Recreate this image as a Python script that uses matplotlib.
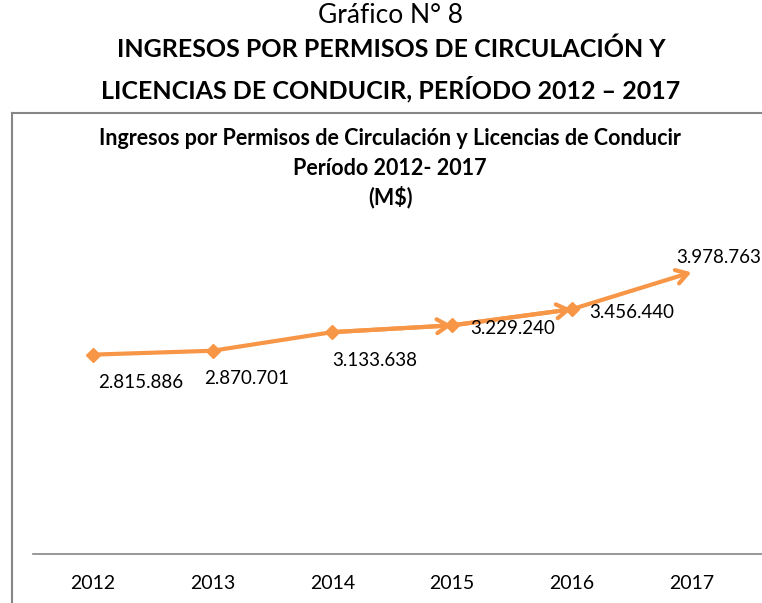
import numpy as np
import matplotlib.pyplot as plt
from matplotlib.lines import Line2D

# Datos del grafico
years = ['2012', '2013', '2014', '2015', '2016', '2017']
ingresos = [2815886, 2870701, 3133638, 3229240, 3456440, 3978763]
etiquetas = ['2.815.886', '2.870.701', '3.133.638', '3.229.240', '3.456.440', '3.978.763']

# desplazamiento de las etiquetas (pixeles)
label_dx = [48, 34, 42, 61, 60, 27]
label_dy = [-28, -28, -28, -3, -3, 15]

plt.rcParams['font.family'] = ['Lato', 'DejaVu Sans']
naranja = '#F79646'
gris = '#868686'

fig = plt.figure(figsize=(7.62, 6.03), dpi=100)

# Titulos exteriores
fig.text(0.513, 0.975, 'Gráfico N° 8', ha='center', va='center', fontsize=19)
fig.text(0.513, 0.918, 'INGRESOS POR PERMISOS DE CIRCULACIÓN Y', ha='center', va='center',
         fontsize=18, fontweight='bold')
fig.text(0.513, 0.852, 'LICENCIAS DE CONDUCIR, PERÍODO 2012 – 2017', ha='center', va='center',
         fontsize=18, fontweight='bold')

# Marco del grafico
fig.add_artist(Line2D([12 / 762, 12 / 762], [0, (603 - 113) / 603], color=gris, lw=1.5))
fig.add_artist(Line2D([12 / 762, 1], [(603 - 113) / 603] * 2, color=gris, lw=1.5))

# Titulo interior
fig.text(0.512, 0.771, 'Ingresos por Permisos de Circulación y Licencias de Conducir',
         ha='center', va='center', fontsize=15.5, fontweight='bold')
fig.text(0.512, 0.721, 'Período 2012- 2017', ha='center', va='center', fontsize=15.5, fontweight='bold')
fig.text(0.512, 0.673, '(M$)', ha='center', va='center', fontsize=15.5, fontweight='bold')

ax = fig.add_axes([33 / 762, 49 / 603, (762 - 33) / 762, 354 / 603])
x = np.arange(len(years))

ax.plot(x[:-1], ingresos[:-1], color=naranja, lw=3, marker='D', markersize=7, zorder=3)
# segmentos con punta de flecha (2015, 2016, 2017)
for i in range(3, len(years)):
    ax.annotate('', xy=(x[i], ingresos[i]), xytext=(x[i - 1], ingresos[i - 1]),
                arrowprops=dict(arrowstyle='->, head_length=0.8, head_width=0.5',
                                color=naranja, lw=3, shrinkA=0, shrinkB=0), zorder=3)

for i in range(len(years)):
    ax.annotate(etiquetas[i], (x[i], ingresos[i]), xytext=(label_dx[i], label_dy[i]),
                textcoords='offset pixels', ha='center', va='center', fontsize=13.5,
                annotation_clip=False)

ax.set_xlim(-0.5, 5.59)
ax.set_ylim(0, 5000000)
ax.set_xticks(x)
ax.set_xticklabels(years, fontsize=14)
ax.set_yticks([])
ax.tick_params(axis='x', length=0, pad=15)
for s in ['top', 'right', 'left']:
    ax.spines[s].set_visible(False)
ax.spines['bottom'].set_color(gris)
ax.spines['bottom'].set_linewidth(1.2)
ax.patch.set_alpha(0)

fig.savefig('out.png', dpi=100)
